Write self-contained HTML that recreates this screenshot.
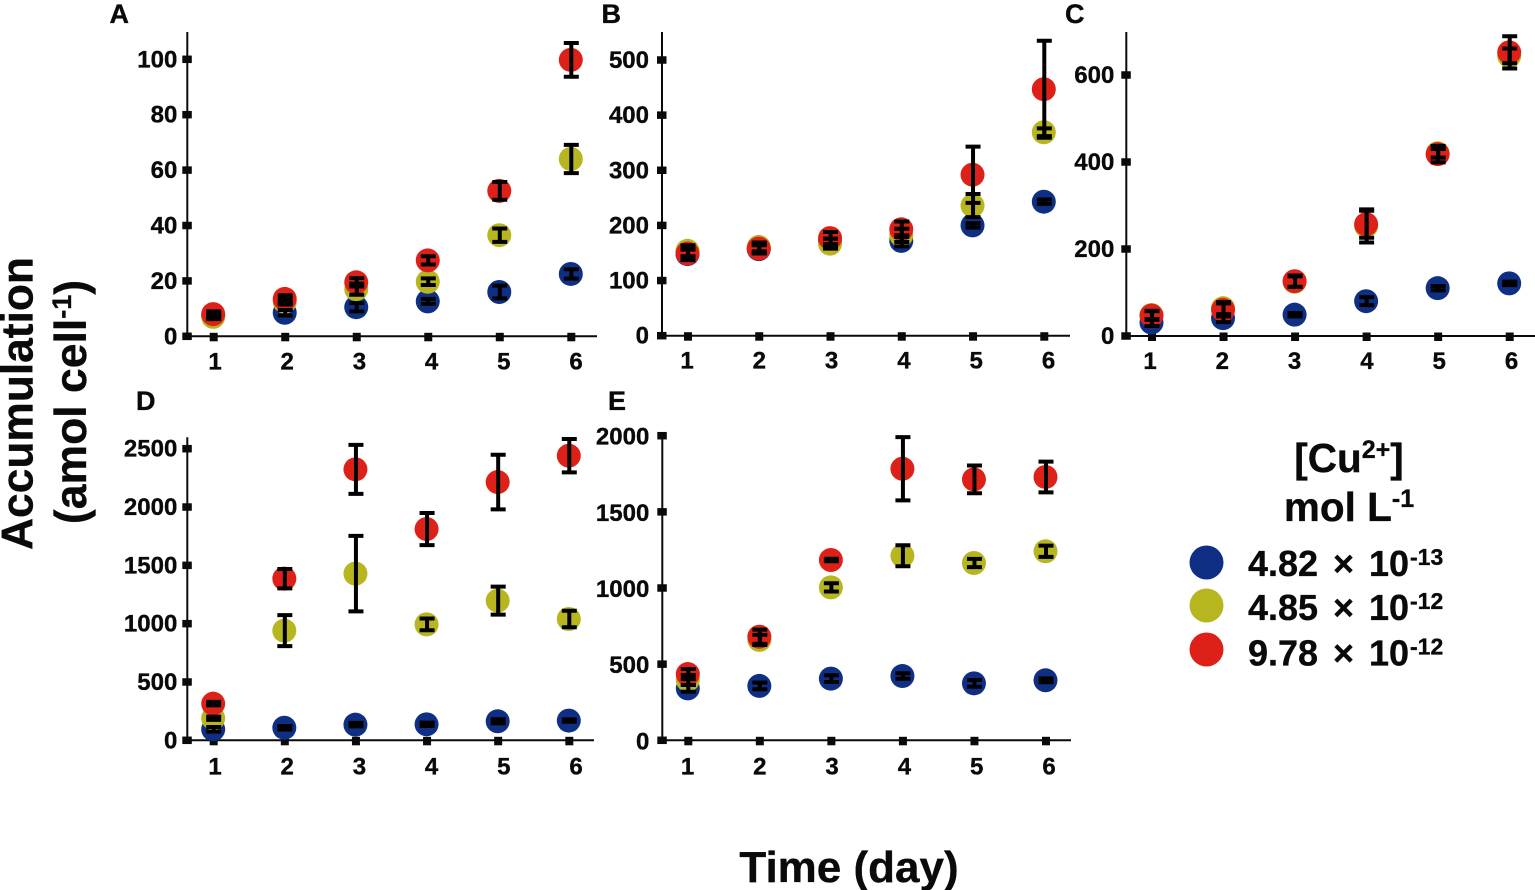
<!DOCTYPE html>
<html lang="en">
<head>
<meta charset="utf-8">
<title>Copper accumulation over time</title>
<style>
html,body{margin:0;padding:0;background:#fff;width:1535px;height:890px;overflow:hidden}
svg{display:block}
text{font-family:"Liberation Sans",sans-serif;font-weight:bold;fill:#0a0a0a;stroke:#0a0a0a;stroke-width:.35px}
</style>
</head>
<body>
<svg id="figure" xmlns="http://www.w3.org/2000/svg" width="1535" height="890" viewBox="0 0 1535 890">
  <rect width="1535" height="890" fill="#fff"/>
  <text transform="translate(32.5,403.5) rotate(-90)" text-anchor="middle" font-size="44.3">Accumulation</text>
  <text transform="translate(86,402) rotate(-90)" text-anchor="middle" font-size="44.5">(amol cell<tspan font-size="27" dy="-15">-1</tspan><tspan dy="15">)</tspan></text>
  <text x="849" y="882" text-anchor="middle" font-size="44">Time (day)</text>
  <g>
    <text x="1349" y="472" text-anchor="middle" font-size="40.5">[Cu<tspan font-size="25" dy="-14">2+</tspan><tspan dy="14">]</tspan></text>
    <text x="1349" y="521" text-anchor="middle" font-size="40.5">mol L<tspan font-size="25" dy="-14">-1</tspan></text>
    <circle cx="1206.5" cy="562.5" r="17" fill="#0f2f85"/>
    <text y="576" font-size="36"><tspan x="1248">4.82</tspan><tspan x="1333">×</tspan><tspan x="1369">10</tspan><tspan x="1410" y="565" font-size="23">-13</tspan></text>
    <circle cx="1206.5" cy="605.5" r="17" fill="#b8b620"/>
    <text y="620" font-size="36"><tspan x="1248">4.85</tspan><tspan x="1333">×</tspan><tspan x="1369">10</tspan><tspan x="1410" y="609" font-size="23">-12</tspan></text>
    <circle cx="1206.5" cy="649.5" r="17" fill="#de2118"/>
    <text y="665.5" font-size="36"><tspan x="1248">9.78</tspan><tspan x="1333">×</tspan><tspan x="1369">10</tspan><tspan x="1410" y="654.5" font-size="23">-12</tspan></text>
  </g>
</svg>
<script>
const days = [1, 2, 3, 4, 5, 6];

const ticksA = [0, 20, 40, 60, 80, 100];
const blueA = [7.5, 8.5, 10.5, 12.6, 16, 22.5];
const oliveA = [7, 12.5, 17, 19.7, 36.5, 64];
const redA = [8, 13.5, 19.5, 27.4, 52.5, 99.8];
const blueErrA = [0.5, 1, 1.5, 0.9, 2.3, 1.7];
const oliveErrA = [0.8, 1, 2, 1.2, 2.4, 5.1];
const redErrA = [1, 1.3, 1.5, 1.5, 3.2, 6.1];

const ticksB = [0, 100, 200, 300, 400, 500];
const blueB = [148, 157, 170, 172, 200, 243];
const oliveB = [154, 161, 167, 182, 236, 369];
const redB = [149, 158, 177, 193, 292, 447];
const blueErrB = [8, 7, 6, 10, 4, 4];
const oliveErrB = [10, 8, 9, 12, 21, 7];
const redErrB = [12, 9, 11, 14, 51, 88];

const ticksC = [0, 200, 400, 600];
const blueC = [31, 41, 49, 80, 110, 121];
const oliveC = [48, 64, 125, 253, 420, 644];
const redC = [47, 60, 126, 257, 418, 652];
const blueErrC = [8, 9, 4, 9, 5, 4];
const oliveErrC = [10, 14, 12, 38, 10, 17];
const redErrC = [10, 15, 13, 31, 19, 37];

const ticksD = [0, 500, 1000, 1500, 2000, 2500];
const blueD = [94, 108, 134, 137, 163, 169];
const oliveD = [189, 940, 1429, 994, 1197, 1040];
const redD = [314, 1386, 2323, 1811, 2214, 2440];
const blueErrD = [20, 15, 15, 14, 18, 10];
const oliveErrD = [14, 133, 324, 50, 120, 71];
const redErrD = [15, 83, 210, 138, 234, 143];

const ticksE = [0, 500, 1000, 1500, 2000];
const blueE = [341, 357, 405, 422, 374, 394];
const oliveE = [396, 659, 1004, 1212, 1164, 1241];
const redE = [435, 680, 1184, 1783, 1713, 1729];
const blueErrE = [22, 22, 22, 18, 22, 13];
const oliveErrE = [33, 33, 27, 69, 27, 37];
const redErrE = [33, 47, 8, 208, 91, 101];

const NS = 'http://www.w3.org/2000/svg';
const figure = document.getElementById('figure');
const seriesColors = { blue: '#0f2f85', olive: '#b8b620', red: '#de2118' };
const INK = '#0a0a0a';

function shape(parent, tag, attrs) {
  const el = document.createElementNS(NS, tag);
  for (const k in attrs) el.setAttribute(k, attrs[k]);
  parent.appendChild(el);
  return el;
}

function drawPanel(p) {
  const yScale = v => p.y0 - v * (p.y0 - p.yMaxPx) / p.yMaxVal;
  const xScale = d => p.x1 + (d - days[0]) * (p.x6 - p.x1) / (days[days.length - 1] - days[0]);
  const labelX = d => p.lx1 + (d - days[0]) * (p.lx6 - p.lx1) / (days[days.length - 1] - days[0]);

  const g = shape(figure, 'g', {});
  
  

  const letter = shape(g, 'text', { x: p.letterX, y: p.letterY, 'font-size': 27 });
  letter.textContent = p.id;
  
  

  const yAxis = shape(g, 'line', { x1: p.axisX, x2: p.axisX, y1: p.axisTop, y2: p.y0 + 1, stroke: INK, 'stroke-width': 2 });
  
  

  const xAxis = shape(g, 'line', { x1: p.axisX, x2: p.axisRight, y1: p.y0, y2: p.y0, stroke: INK, 'stroke-width': 2 });
  
  

  p.ticks.forEach(v => {
    const tick = shape(g, 'rect', { x: p.axisX - 5, y: yScale(v) - 3.75, width: 9.5, height: 7.5, fill: INK });
    
    
    const label = shape(g, 'text', { x: p.axisX - p.labelGap, y: yScale(v) + 8 + p.labelDy, 'font-size': 24, 'text-anchor': 'end' });
    label.textContent = v;
    
    
  });

  days.forEach(d => {
    const tick = shape(g, 'rect', { x: xScale(d) - 4, y: p.y0 - 3.5, width: 8, height: 8.5, fill: INK });
    
    
    const label = shape(g, 'text', { x: labelX(d), y: p.y0 + p.xLabelDy, 'font-size': 24, 'text-anchor': 'middle' });
    label.textContent = d;
    
    
  });

  const series = [
    { key: 'blue', values: p.blue, errs: p.blueErr },
    { key: 'olive', values: p.olive, errs: p.oliveErr },
    { key: 'red', values: p.red, errs: p.redErr }
  ];

  series.forEach(s => {
    s.values.forEach((v, i) => {
      const dot = shape(g, 'circle', { cx: xScale(days[i]) - 0.5, cy: yScale(v), r: 12, fill: seriesColors[s.key] });
      
      
    });
  });

  series.forEach(s => {
    s.values.forEach((v, i) => {
      const cx = xScale(days[i]);
      const top = yScale(v + s.errs[i]);
      const bottom = yScale(v - s.errs[i]);
      const bar = shape(g, 'path', {
        d: 'M' + cx + ' ' + top + 'V' + bottom + 'M' + (cx - 7.5) + ' ' + top + 'H' + (cx + 7.5) + 'M' + (cx - 7.5) + ' ' + bottom + 'H' + (cx + 7.5),
        stroke: '#000', 'stroke-width': 4, fill: 'none'
      });
      
      
    });
  });
}

drawPanel({ id: 'A', ticks: ticksA, blue: blueA, olive: oliveA, red: redA, blueErr: blueErrA, oliveErr: oliveErrA, redErr: redErrA,
  yMaxVal: 100, yMaxPx: 59.3, y0: 336.3, axisX: 187.3, axisTop: 32, axisRight: 597, x1: 213.7, x6: 571.3, lx1: 215, lx6: 576, labelGap: 10, labelDy: 0, xLabelDy: 33, letterX: 109.5, letterY: 23 });
drawPanel({ id: 'B', ticks: ticksB, blue: blueB, olive: oliveB, red: redB, blueErr: blueErrB, oliveErr: oliveErrB, redErr: redErrB,
  yMaxVal: 500, yMaxPx: 60, y0: 335.7, axisX: 662, axisTop: 32, axisRight: 1070, x1: 688, x6: 1044.3, lx1: 687, lx6: 1048.5, labelGap: 13, labelDy: 0, xLabelDy: 33, letterX: 601.5, letterY: 23 });
drawPanel({ id: 'C', ticks: ticksC, blue: blueC, olive: oliveC, red: redC, blueErr: blueErrC, oliveErr: oliveErrC, redErr: redErrC,
  yMaxVal: 600, yMaxPx: 75, y0: 336, axisX: 1126.3, axisTop: 32, axisRight: 1535, x1: 1152, x6: 1509.7, lx1: 1150, lx6: 1511.5, labelGap: 12, labelDy: 0, xLabelDy: 33, letterX: 1065, letterY: 23 });
drawPanel({ id: 'D', ticks: ticksD, blue: blueD, olive: oliveD, red: redD, blueErr: blueErrD, oliveErr: oliveErrD, redErr: redErrD,
  yMaxVal: 2500, yMaxPx: 448.7, y0: 740.3, axisX: 187.3, axisTop: 437.3, axisRight: 594, x1: 213.7, x6: 569.3, lx1: 215, lx6: 576, labelGap: 10, labelDy: 0, xLabelDy: 34, letterX: 136, letterY: 410 });
drawPanel({ id: 'E', ticks: ticksE, blue: blueE, olive: oliveE, red: redE, blueErr: blueErrE, oliveErr: oliveErrE, redErr: redErrE,
  yMaxVal: 2000, yMaxPx: 435.7, y0: 740.3, axisX: 662.3, axisTop: 435.7, axisRight: 1071, x1: 688.3, x6: 1046, lx1: 687.5, lx6: 1049, labelGap: 13, labelDy: 1, xLabelDy: 34, letterX: 608, letterY: 410 });
</script>
</body>
</html>
